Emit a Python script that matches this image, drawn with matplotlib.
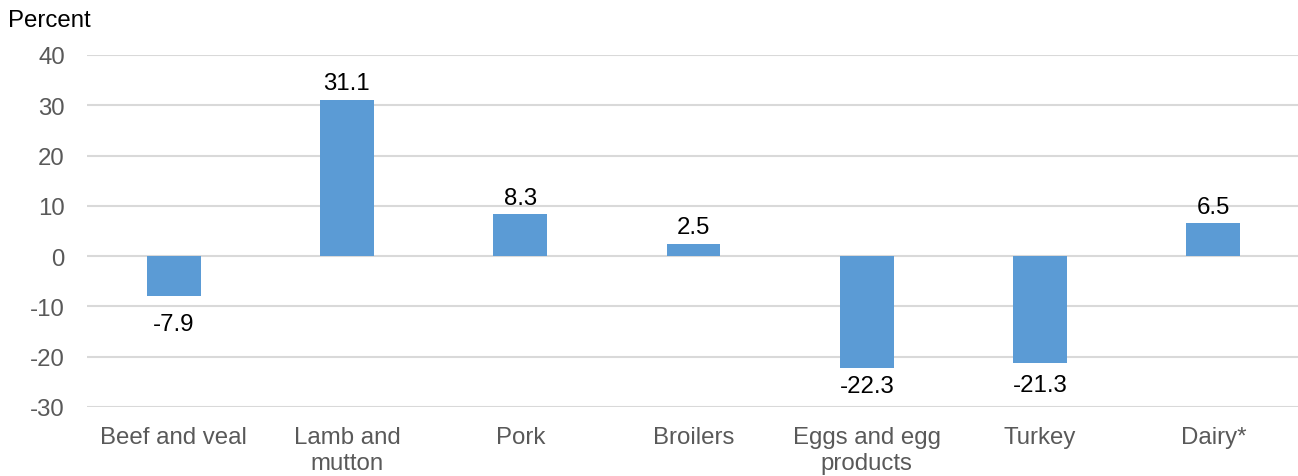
import matplotlib
matplotlib.use("Agg")
import matplotlib.pyplot as plt

categories = ["Beef and veal", "Lamb and\nmutton", "Pork", "Broilers",
              "Eggs and egg\nproducts", "Turkey", "Dairy*"]
values = [-7.9, 31.1, 8.3, 2.5, -22.3, -21.3, 6.5]
yticks = [-30, -20, -10, 0, 10, 20, 30, 40]

plt.rcParams['font.family'] = ['Liberation Sans', 'DejaVu Sans']
FS = 17.3

fig = plt.figure(figsize=(12.98, 4.77), dpi=100)
ax = fig.add_axes([87/1298, 69/477, (1300-87)/1298, (408-56)/477])

x = list(range(len(categories)))
ax.bar(x, values, width=0.31, color="#5B9BD5", zorder=3)

ax.set_xlim(-0.5, len(categories) - 0.5)
ax.set_ylim(-30, 40)
ax.set_yticks(yticks)
ax.set_yticklabels([str(v) for v in yticks])
ax.set_xticks(x)
ax.set_xticklabels(categories, linespacing=1.22)
ax.tick_params(axis='both', length=0, labelsize=FS, colors="#595959")
ax.tick_params(axis='y', pad=16)
ax.tick_params(axis='x', pad=14)
ax.grid(axis='y', color="#D9D9D9", linewidth=1.5, zorder=0)
for s in ax.spines.values():
    s.set_visible(False)

neg_offsets = {0: -12.5, 4: -4.5, 5: -8}
for xi, v in zip(x, values):
    if v >= 0:
        ax.annotate(f"{v}", (xi, v), xytext=(0, 4), textcoords="offset points",
                    ha="center", va="bottom", fontsize=FS, color="black")
    else:
        ax.annotate(f"{v}", (xi, v), xytext=(0, neg_offsets.get(xi, -4)),
                    textcoords="offset points",
                    ha="center", va="top", fontsize=FS, color="black")

fig.text(8/1298, 1 - 21/477, "Percent", ha="left", va="center", fontsize=FS, color="black")

fig.savefig("out.png", dpi=100)
